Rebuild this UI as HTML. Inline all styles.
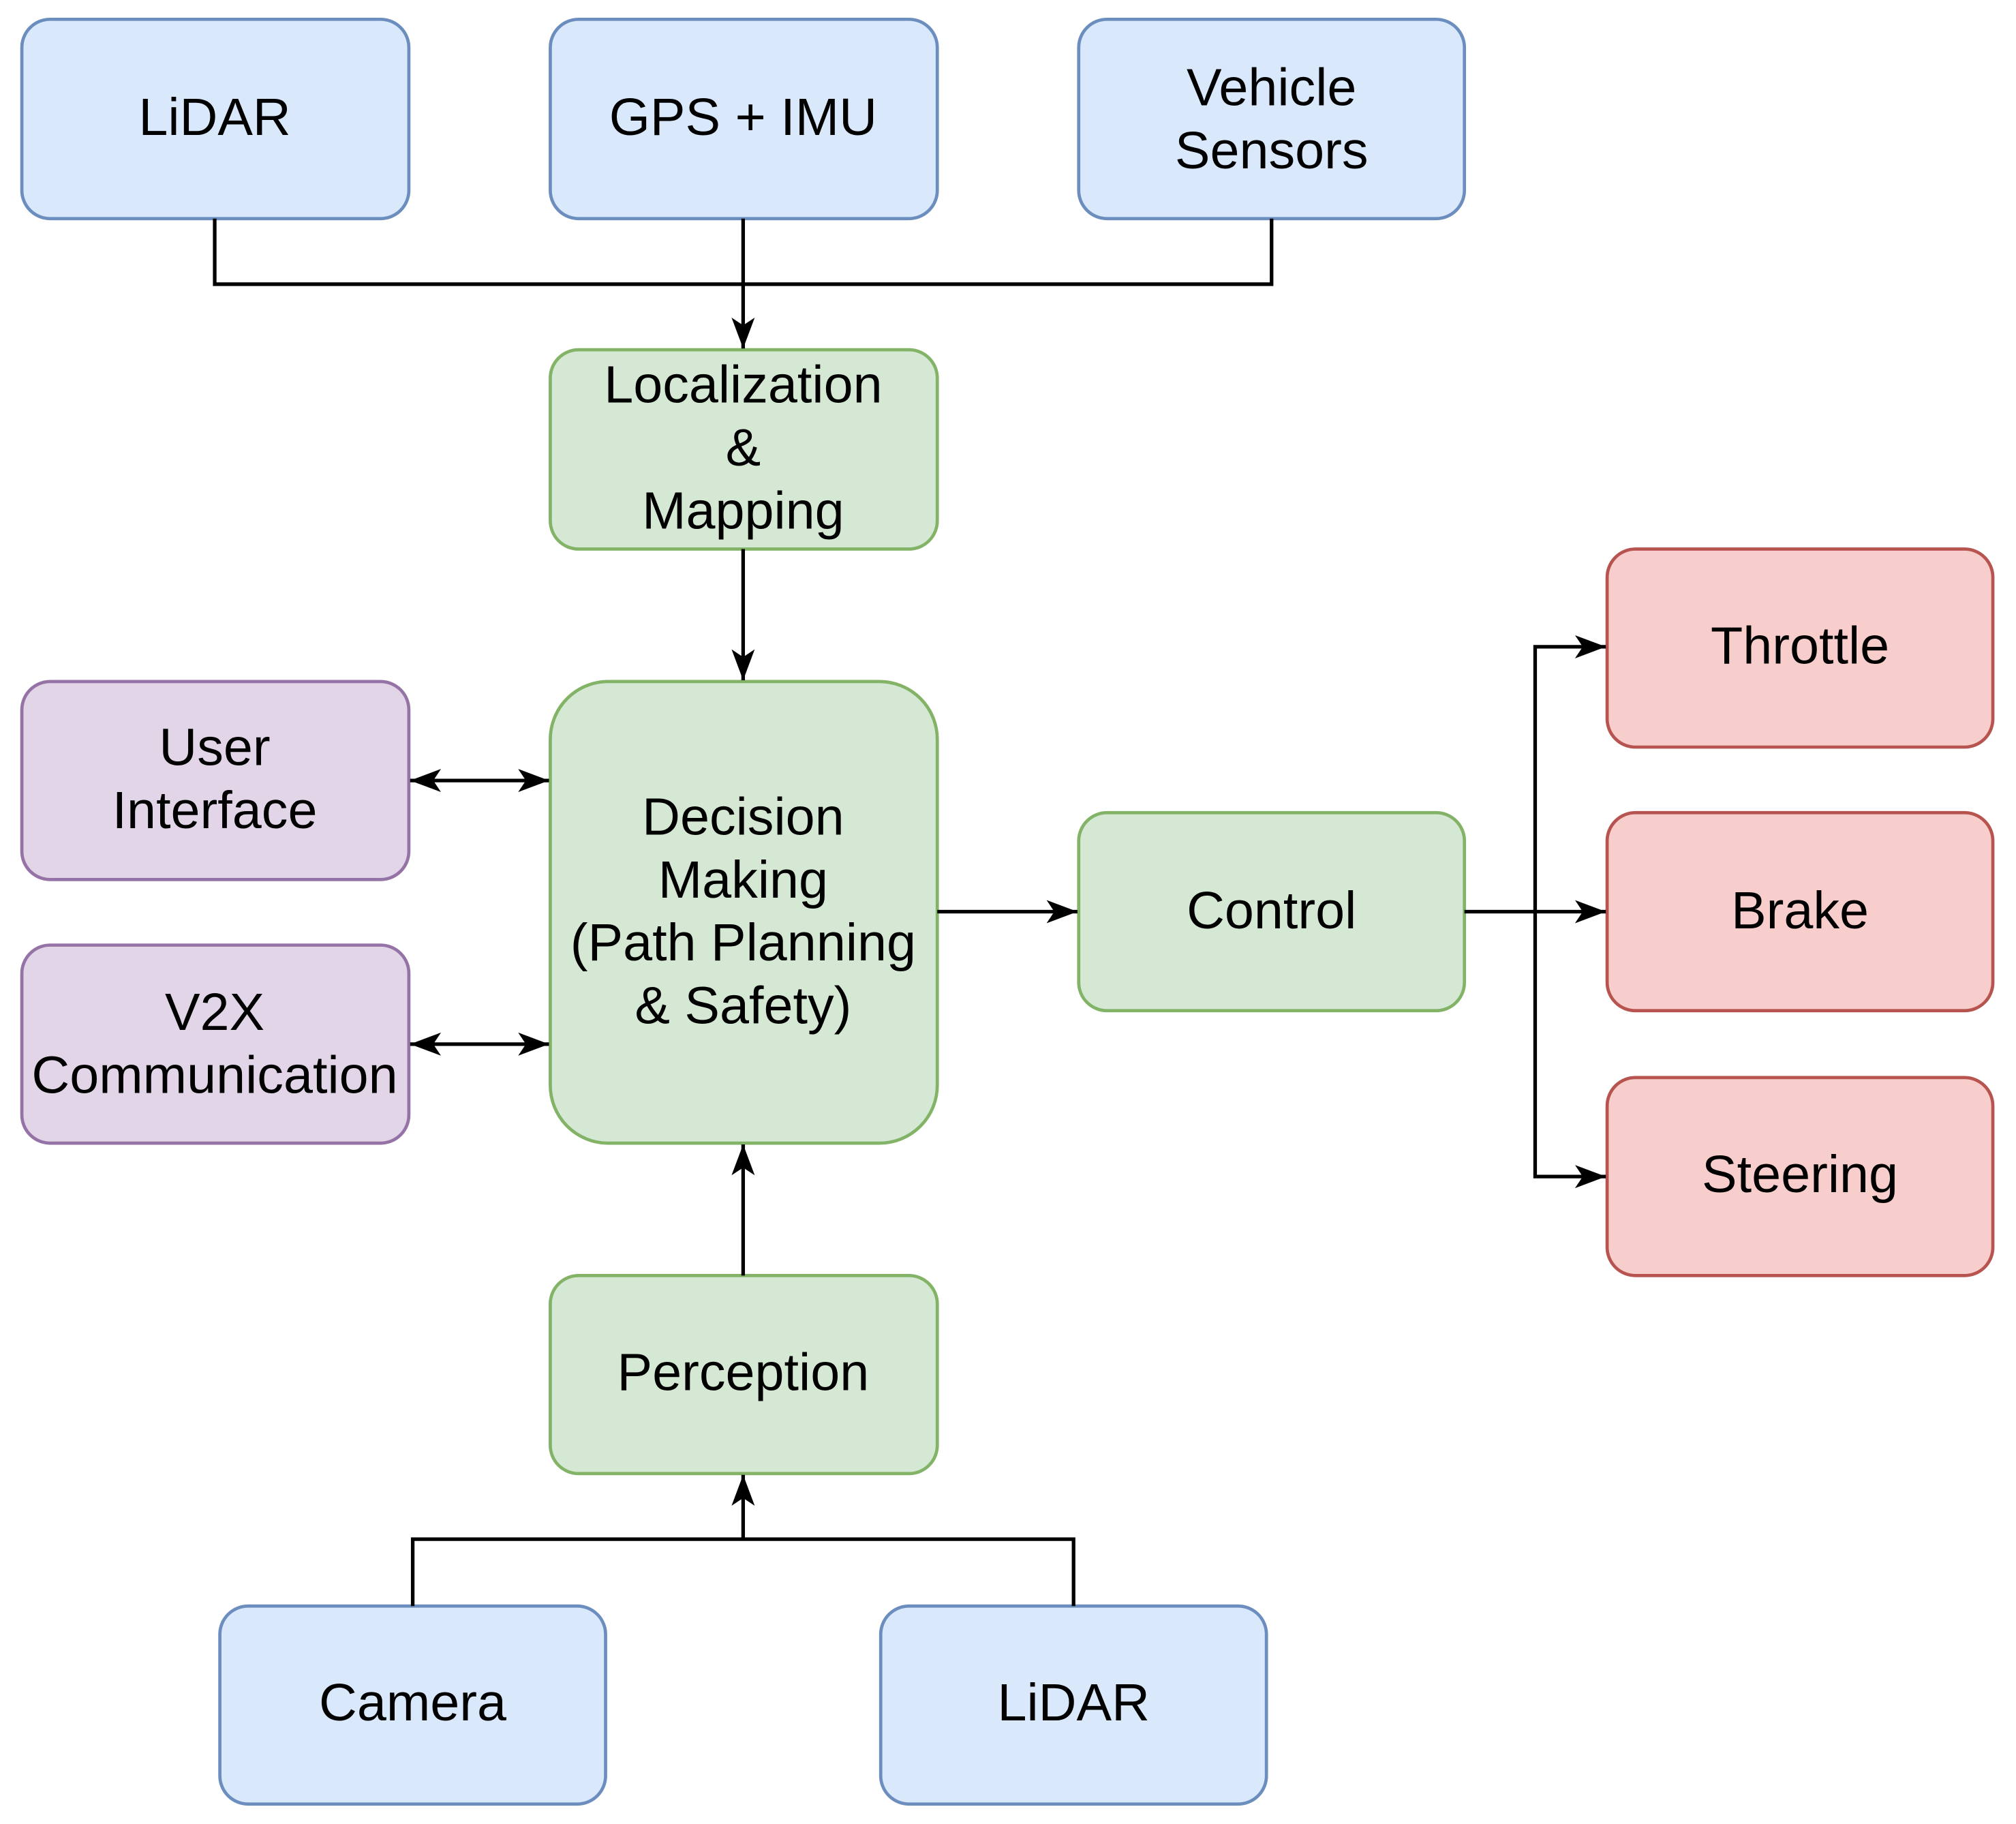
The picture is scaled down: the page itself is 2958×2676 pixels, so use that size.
<!DOCTYPE html>
<html><head><meta charset="utf-8"><style>html,body{margin:0;padding:0;background:#fff}svg{display:block}</style></head>
<body>
<svg xmlns="http://www.w3.org/2000/svg" width="2958" height="2676" viewBox="0 0 1568 1418.5">
<defs>
<marker id="a" markerUnits="userSpaceOnUse" markerWidth="26" markerHeight="20" refX="24" refY="9" orient="auto-start-reverse" viewBox="0 0 26 18">
<path d="M0,0 L24,9 L0,18 L6,9 Z" fill="#000"/>
</marker>
</defs>
<g font-family="'Liberation Sans', Arial, sans-serif" font-size="41" text-anchor="middle" fill="#000">
<g stroke-width="2.5">
<rect x="17" y="15" width="301" height="155" rx="22" fill="#dae8fc" stroke="#6c8ebf"/>
<rect x="428" y="15" width="301" height="155" rx="22" fill="#dae8fc" stroke="#6c8ebf"/>
<rect x="839" y="15" width="300" height="155" rx="22" fill="#dae8fc" stroke="#6c8ebf"/>
<rect x="428" y="272" width="301" height="155" rx="22" fill="#d5e8d4" stroke="#82b366"/>
<rect x="428" y="530" width="301" height="359" rx="45" fill="#d5e8d4" stroke="#82b366"/>
<rect x="17" y="530" width="301" height="154" rx="22" fill="#e1d5e7" stroke="#9673a6"/>
<rect x="17" y="735" width="301" height="154" rx="22" fill="#e1d5e7" stroke="#9673a6"/>
<rect x="839" y="632" width="300" height="154" rx="22" fill="#d5e8d4" stroke="#82b366"/>
<rect x="1250" y="427" width="300" height="154" rx="22" fill="#f8cecc" stroke="#b85450"/>
<rect x="1250" y="632" width="300" height="154" rx="22" fill="#f8cecc" stroke="#b85450"/>
<rect x="1250" y="838" width="300" height="154" rx="22" fill="#f8cecc" stroke="#b85450"/>
<rect x="428" y="992" width="301" height="154" rx="22" fill="#d5e8d4" stroke="#82b366"/>
<rect x="171" y="1249" width="300" height="154" rx="22" fill="#dae8fc" stroke="#6c8ebf"/>
<rect x="685" y="1249" width="300" height="154" rx="22" fill="#dae8fc" stroke="#6c8ebf"/>
</g>
<g fill="none" stroke="#000" stroke-width="2.8">
<path d="M167,170 V221 H989 V170"/>
<path d="M578,170 V271" marker-end="url(#a)"/>
<path d="M578,427 V529" marker-end="url(#a)"/>
<path d="M319,607 H427" marker-start="url(#a)" marker-end="url(#a)"/>
<path d="M319,812 H427" marker-start="url(#a)" marker-end="url(#a)"/>
<path d="M729,709 H838" marker-end="url(#a)"/>
<path d="M1139,709 H1249" marker-end="url(#a)"/>
<path d="M1194,709 V503 H1249" marker-end="url(#a)"/>
<path d="M1194,709 V915 H1249" marker-end="url(#a)"/>
<path d="M578,992 V890" marker-end="url(#a)"/>
<path d="M321,1249 V1197 H835 V1249"/>
<path d="M578,1197 V1147" marker-end="url(#a)"/>
</g>
<text x="167" y="105">LiDAR</text>
<text x="578" y="105">GPS + IMU</text>
<text x="989" y="82">Vehicle</text>
<text x="989" y="131">Sensors</text>
<text x="578" y="313">Localization</text>
<text x="578" y="362">&amp;</text>
<text x="578" y="411">Mapping</text>
<text x="578" y="649">Decision</text>
<text x="578" y="698">Making</text>
<text x="578" y="747">(Path Planning</text>
<text x="578" y="796">&amp; Safety)</text>
<text x="167" y="595">User</text>
<text x="167" y="644">Interface</text>
<text x="167" y="801">V2X</text>
<text x="167" y="850">Communication</text>
<text x="989" y="722">Control</text>
<text x="1400" y="516">Throttle</text>
<text x="1400" y="722">Brake</text>
<text x="1400" y="927">Steering</text>
<text x="578" y="1081">Perception</text>
<text x="321" y="1338">Camera</text>
<text x="835" y="1338">LiDAR</text>
</g>
</svg>
</body></html>
